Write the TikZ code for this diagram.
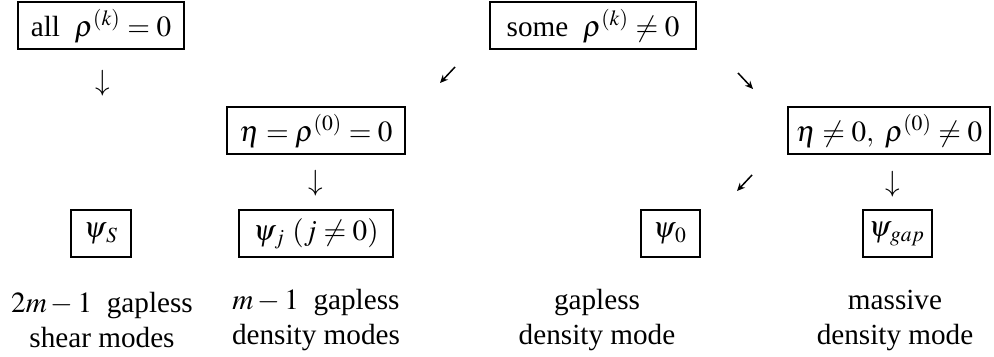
\documentclass[tikz,border=0pt]{standalone}
\usepackage{mathptmx}
\usepackage{fontspec}
\setmainfont{Liberation Serif}
\usetikzlibrary{arrows.meta}
\begin{document}
\begin{tikzpicture}[x=0.5pt,y=-0.5pt,
  font=\fontsize{14.6pt}{17.5pt}\selectfont,
  box/.style={draw, line width=1pt, inner sep=0pt, minimum height=23.5pt},
  lbl/.style={align=center, inner sep=0pt},
  arr/.style={inner sep=0pt},
  diag/.style={line width=0.75pt, -{Stealth[length=4pt,width=3.6pt]}}]
\useasboundingbox (0,0) rectangle (994,357);
% row 1
\node[box, minimum width=83pt] (all) at (101,26) {all\ \ $\rho^{(k)}=0$};
\node[box, minimum width=103pt] (some) at (593,26) {some\ \ $\rho^{(k)}\neq0$};
% arrows row 1
\node[arr] (a1) at (103,83) {$\downarrow$};
\coordinate (a2s) at (455,67);
\coordinate (a2e) at (440,83);
\draw[diag] (a2s) -- (a2e);
\coordinate (a3s) at (738,73);
\coordinate (a3e) at (753,89);
\draw[diag] (a3s) -- (a3e);
% row 2
\node[box, minimum width=89pt] (eq) at (316,131) {$\eta=\rho^{(0)}=0$};
\node[box, minimum width=101pt] (ne) at (889,131) {$\eta\neq0,\ \rho^{(0)}\neq0$};
% arrows row 2
\node[arr] (a4) at (316,183) {$\downarrow$};
\coordinate (a5s) at (752,175);
\coordinate (a5e) at (737,191);
\draw[diag] (a5s) -- (a5e);
\node[arr] (a6) at (893,184) {$\downarrow$};
% row 3
\node[box, minimum width=30pt] (ps) at (101,234) {$\psi_{\kern1pt S}$};
\node[box, minimum width=77pt] (pj) at (316,234) {$\psi_{\kern0.5pt j}\ (j\neq0)$};
\node[box, minimum width=29.5pt] (p0) at (670,234) {$\psi_{\kern1pt 0}$};
\node[box, minimum width=34.5pt] (pg) at (897,234) {$\psi_{\kern0.5pt gap}$};
% labels
\node[lbl] (l1) at (102,320) {$2m-1$\ \ gapless\\shear modes};
\node[lbl] (l2) at (316,320) {$m-1$\ \ gapless\\density modes};
\node[lbl] (l3) at (597,320) {gapless\\density mode};
\node[lbl] (l4) at (895,320) {massive\\density mode};
\end{tikzpicture}
\end{document}
